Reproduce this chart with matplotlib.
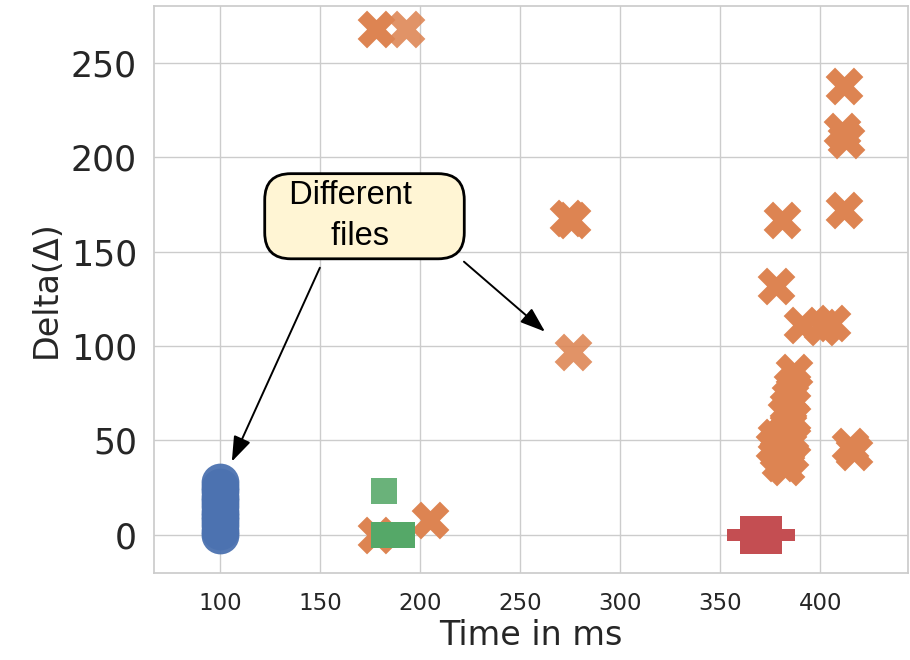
import matplotlib
matplotlib.use("Agg")
import matplotlib.pyplot as plt
import seaborn as sns

sns.set_theme(style="whitegrid")
plt.rcParams["font.family"] = ["DejaVu Sans"]

# Groups of measurements: time (ms) and delta
blue_time = [100, 100, 100, 100, 100, 100, 100, 100, 100, 100, 100, 100]
blue_delta = [0, 2, 5, 8, 10, 12, 15, 18, 20, 23, 25, 28]

orange_time = [178, 274, 276, 178, 205,
               412, 411, 413, 412, 381, 378, 391, 401, 406,
               387, 386, 385, 384, 383, 386, 384, 382, 378, 377, 379, 383, 386, 380, 383, 385,
               415, 417]
orange_delta = [268, 168, 167, 0, 8,
                238, 214, 209, 172, 167, 132, 111, 110, 112,
                86, 79, 73, 68, 64, 62, 57, 53, 52, 47, 43, 47, 50, 38, 36, 42,
                47, 44]
# single, lighter readings
orange_single_time = [193, 276.5]
orange_single_delta = [268, 97]

green_time = [182, 186, 191]
green_delta = [0, 0, 0]
green_single_time = [182]
green_single_delta = [23]

red_time = [363, 367, 371, 375, 378]
red_delta = [0, 0, 0, 0, 0]

colors = ["#4C72B0", "#DD8452", "#55A868", "#C44E52"]

fig = plt.figure(figsize=(9.1, 6.6), dpi=100)
ax = fig.add_axes([0.169, 0.132, 0.829, 0.859])

msize = 740
kw = dict(s=msize, linewidths=0, zorder=3)
ax.scatter(blue_time, blue_delta, marker="o", color=colors[0], alpha=0.95, **kw)
ax.scatter(orange_time, orange_delta, marker="X", color=colors[1], **kw)
ax.scatter(orange_single_time, orange_single_delta, marker="X", color=colors[1],
           alpha=0.88, **kw)
ax.scatter(green_time, green_delta, marker=(4, 0, 45), color=colors[2], **kw)
ax.scatter(green_single_time, green_single_delta, marker=(4, 0, 45), color=colors[2],
           alpha=0.88, **kw)
ax.scatter(red_time, red_delta, marker="P", color=colors[3], **kw)

ax.set_xlim(67, 444)
ax.set_ylim(-20.3, 280.3)
ax.set_xticks([100, 150, 200, 250, 300, 350, 400])
ax.set_yticks([0, 50, 100, 150, 200, 250])
ax.tick_params(axis="x", labelsize=16.5, colors="#262626", pad=8)
ax.tick_params(axis="y", labelsize=25, colors="#262626", pad=6)
ax.set_xlabel("Time in ms", fontsize=24, color="#262626", labelpad=3)
ax.set_ylabel("Delta(Δ)", fontsize=24, color="#262626", labelpad=6)

# Callout box with two arrows
ax.text(172.3, 168.8, "  Different     \nfiles ", ha="center", va="center",
        multialignment="center", fontsize=23.5, family="Liberation Sans",
        color="black", zorder=5, linespacing=1.42,
        bbox=dict(boxstyle="round,pad=0.2,rounding_size=0.8",
                  fc="#FFF5D4", ec="black", lw=2))
arrow = dict(arrowstyle="-|>,head_length=0.7,head_width=0.25", color="black",
             lw=1.4, mutation_scale=22, shrinkA=0, shrinkB=0)
ax.annotate("", xy=(106, 38.7), xytext=(150, 141.5), arrowprops=arrow, zorder=5)
ax.annotate("", xy=(262.5, 107.6), xytext=(222, 144.7), arrowprops=arrow, zorder=5)

fig.savefig("out.png", dpi=100)
